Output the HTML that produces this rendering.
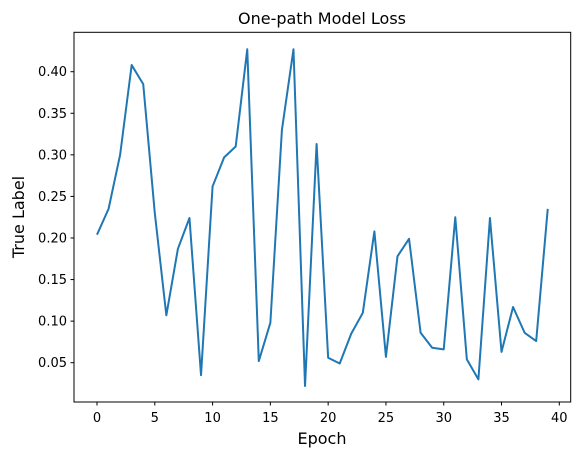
<!DOCTYPE html>
<html><head><meta charset="utf-8"><style>
html,body{margin:0;padding:0;background:#fff;}
svg text{font-family:"DejaVu Sans","Liberation Sans",sans-serif;fill:#000;}
</style></head><body>
<svg id="chart" width="580" height="459" xmlns="http://www.w3.org/2000/svg">
<rect width="580" height="459" fill="#fff"/>
<text x="322" y="24" font-size="16" text-anchor="middle">One-path Model Loss</text>
<path id="line" fill="none" stroke="#1f77b4" stroke-width="2" stroke-linejoin="round"/>
<rect x="74" y="32.3" width="496.7" height="369.7" fill="none" stroke="#000" stroke-width="1"/>
<g id="xt"></g><g id="yt"></g>
<text x="322" y="444" font-size="16" text-anchor="middle">Epoch</text>
<text transform="translate(24,217) rotate(-90)" font-size="16" text-anchor="middle">True Label</text>
</svg>
<script>
const epochs = [];
for (let i = 0; i < 40; i++) epochs.push(i);
const lossValues = [0.204,0.235,0.300,0.408,0.385,0.230,0.107,0.187,0.224,0.035,0.262,0.297,0.310,0.427,0.052,0.098,0.330,0.427,0.022,0.313,0.056,0.049,0.085,0.110,0.208,0.057,0.178,0.199,0.086,0.068,0.066,0.225,0.054,0.030,0.224,0.063,0.117,0.086,0.076,0.235];
const xTicks = [0,5,10,15,20,25,30,35,40];
const yTicks = [0.05,0.10,0.15,0.20,0.25,0.30,0.35,0.40];
const yTickLabels = ["0.05","0.10","0.15","0.20","0.25","0.30","0.35","0.40"];

const X = v => 97 + (v) * (559.3 - 97) / 40;
const Y = v => 362.7 - (v - 0.05) * (362.7 - 71.7) / 0.35;
const NS = "http://www.w3.org/2000/svg";

let d = "";
epochs.forEach((e, i) => { d += (i ? "L" : "M") + X(e).toFixed(2) + "," + Y(lossValues[i]).toFixed(2); });
document.getElementById("line").setAttribute("d", d);

const xt = document.getElementById("xt");
xTicks.forEach(t => {
  const l = document.createElementNS(NS, "line");
  l.setAttribute("x1", X(t)); l.setAttribute("x2", X(t));
  l.setAttribute("y1", 402); l.setAttribute("y2", 405.5);
  l.setAttribute("stroke", "#000");
  
  
  xt.appendChild(l);
  const tx = document.createElementNS(NS, "text");
  tx.setAttribute("x", X(t)); tx.setAttribute("y", 422);
  tx.setAttribute("font-size", "13"); tx.setAttribute("text-anchor", "middle");
  tx.textContent = t;
  
  
  xt.appendChild(tx);
});
const yt = document.getElementById("yt");
yTicks.forEach((t, i) => {
  const l = document.createElementNS(NS, "line");
  l.setAttribute("x1", 70.5); l.setAttribute("x2", 74);
  l.setAttribute("y1", Y(t)); l.setAttribute("y2", Y(t));
  l.setAttribute("stroke", "#000");
  
  
  yt.appendChild(l);
  const tx = document.createElementNS(NS, "text");
  tx.setAttribute("x", 67); tx.setAttribute("y", Y(t) + 4.5);
  tx.setAttribute("font-size", "13"); tx.setAttribute("text-anchor", "end");
  tx.textContent = yTickLabels[i];
  
  
  yt.appendChild(tx);
});
</script>
</body></html>
